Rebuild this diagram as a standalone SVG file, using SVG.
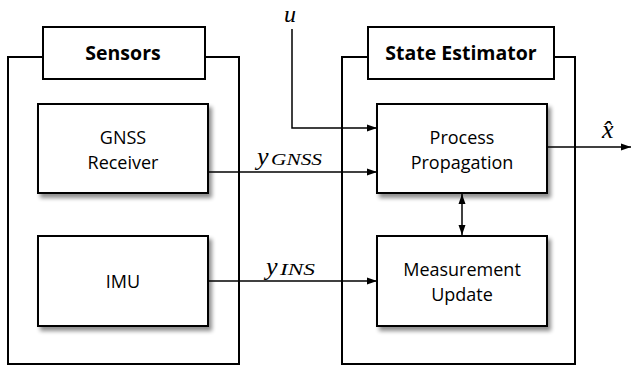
<svg xmlns="http://www.w3.org/2000/svg" width="631" height="371" viewBox="0 0 631 371">
<style>
.box{fill:#fff;stroke:#000;stroke-width:2}
.outer{fill:none;stroke:#000;stroke-width:2}
.lbl{font-family:"Open Sans","Noto Sans",sans-serif;font-size:18px;fill:#000;text-anchor:middle}
.title{font-family:"Open Sans","Noto Sans",sans-serif;font-size:19.5px;font-weight:bold;fill:#000;text-anchor:middle}
.math{font-family:"Liberation Serif","DejaVu Serif",serif;font-style:italic;fill:#000}
.wire{fill:none;stroke:#000;stroke-width:1.5}
</style>
<defs>
<filter id="sh" x="-10%" y="-10%" width="130%" height="130%">
<feGaussianBlur in="SourceAlpha" stdDeviation="2"/>
<feOffset dx="3" dy="4" result="b"/>
<feComponentTransfer><feFuncA type="linear" slope="0.45"/></feComponentTransfer>
<feMerge><feMergeNode/><feMergeNode in="SourceGraphic"/></feMerge>
</filter>
<marker id="ah" viewBox="0 0 10 10" refX="10" refY="5" markerWidth="10" markerHeight="10" markerUnits="userSpaceOnUse" orient="auto-start-reverse">
<path d="M0,1.5 L10,5 L0,8.5 Z" fill="#000"/>
</marker>
</defs>
<rect width="631" height="371" fill="#fff"/>

<g id="sensors">
<path class="outer" d="M43,57 H8 V364 H239 V57 H205"/>
<rect class="box" x="43" y="27" width="162" height="52"/>
<text class="title" x="123" y="60">Sensors</text>
</g>

<g id="state-estimator">
<path class="outer" d="M368,57 H342 V364 H575 V57 H554"/>
<rect class="box" x="368" y="27" width="186" height="52"/>
<text class="title" x="461" y="60">State Estimator</text>
</g>

<g id="connectors">
<path class="wire" d="M292,29 V128 H377" marker-end="url(#ah)"/>
<path class="wire" d="M208,172 H377" marker-end="url(#ah)"/>
<path class="wire" d="M208,281 H377" marker-end="url(#ah)"/>
<path class="wire" d="M547,147 H631" marker-end="url(#ah)"/>
<path class="wire" d="M462,194 V235" marker-start="url(#ah)" marker-end="url(#ah)"/>
<text class="math" x="284" y="22" font-size="24">u</text>
<text class="math" x="257" y="165" font-size="26">y</text>
<text class="math" x="271" y="165" font-size="17" textLength="51" lengthAdjust="spacingAndGlyphs">GNSS</text>
<text class="math" x="266" y="275" font-size="26">y</text>
<text class="math" x="280" y="275" font-size="17" textLength="35" lengthAdjust="spacingAndGlyphs">INS</text>
<text class="math" x="602" y="138" font-size="26">x̂</text>
</g>

<g id="gnss">
<rect class="box" x="38" y="104" width="170" height="89" filter="url(#sh)"/>
<text class="lbl" x="123" y="144">GNSS</text>
<text class="lbl" x="123" y="169">Receiver</text>
</g>

<g id="imu">
<rect class="box" x="38" y="236" width="170" height="90" filter="url(#sh)"/>
<text class="lbl" x="123" y="288">IMU</text>
</g>

<g id="process">
<rect class="box" x="377" y="104" width="170" height="89" filter="url(#sh)"/>
<text class="lbl" x="462" y="144">Process</text>
<text class="lbl" x="462" y="169">Propagation</text>
</g>

<g id="measurement">
<rect class="box" x="377" y="236" width="170" height="90" filter="url(#sh)"/>
<text class="lbl" x="462" y="276">Measurement</text>
<text class="lbl" x="462" y="301">Update</text>
</g>
</svg>
